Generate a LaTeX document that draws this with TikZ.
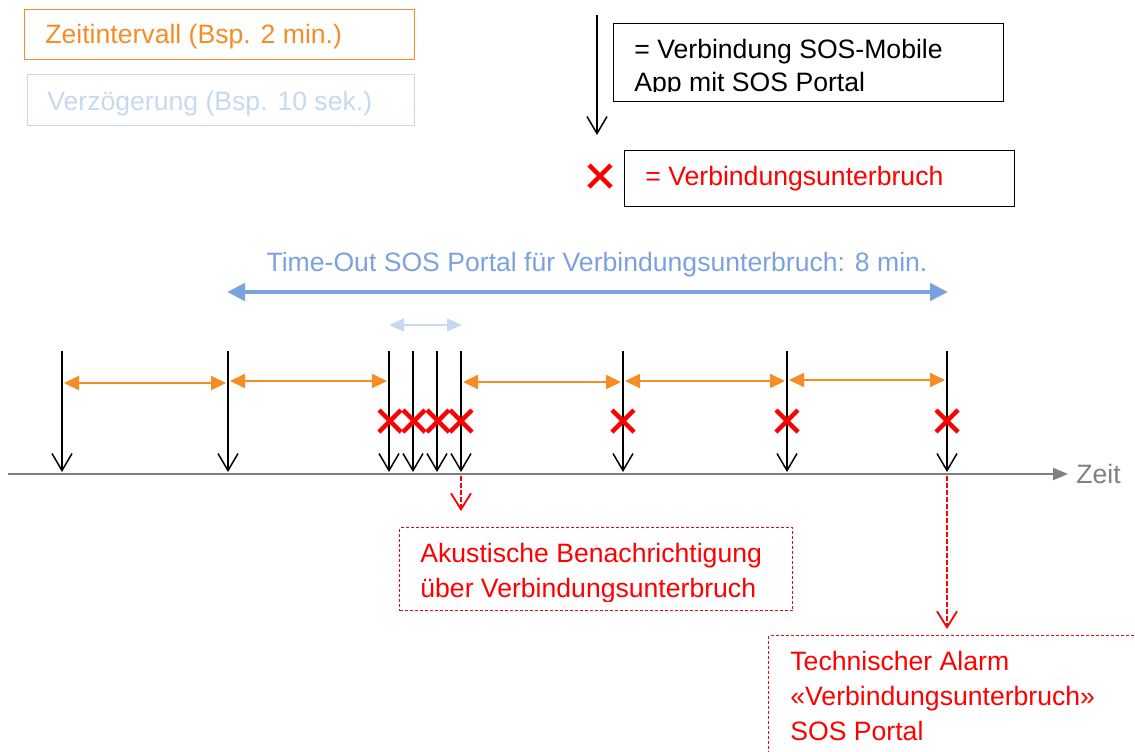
\documentclass[tikz,border=0pt]{standalone}
\usepackage{fontspec}
\setmainfont{Liberation Sans}
\usetikzlibrary{arrows.meta,calc}
\definecolor{orng}{RGB}{247,140,36}
\definecolor{lblue}{RGB}{198,217,241}
\definecolor{mblue}{RGB}{122,162,222}
\definecolor{axgray}{RGB}{128,128,128}
\definecolor{sosred}{RGB}{255,0,0}
\begin{document}
\begin{tikzpicture}[x=0.5pt,y=-0.5pt,
  txt/.style={font=\fontsize{13.3}{17.5}\selectfont, inner sep=0pt, anchor=base west},
  plainbox/.style={draw, line width=0.5pt, inner sep=0pt, anchor=north west},
  redbox/.style={draw=sosred, line width=0.5pt, dash pattern=on 1.5pt off 1pt, inner sep=0pt, anchor=north west},
  conn/.style={draw=black, line width=0.75pt, -{Straight Barb[length=8.5pt,width=10pt]}},
  redconn/.style={draw=sosred, line width=1pt, dash pattern=on 2.5pt off 1pt, -{Straight Barb[length=8pt,width=10pt,line width=0.9pt]}},
  interval/.style={draw=orng, line width=1pt, {Triangle[length=7.5pt,width=7pt]}-{Triangle[length=7.5pt,width=7pt]}},
  delay/.style={draw=lblue, line width=0.75pt, {Triangle[length=7.5pt,width=6.5pt]}-{Triangle[length=7.5pt,width=6.5pt]}},
  timeout/.style={draw=mblue, line width=2.4pt, {Triangle[length=9pt,width=8.5pt]}-{Triangle[length=9pt,width=8.5pt]}},
  axis/.style={draw=axgray, line width=1pt, -{Triangle[length=7.5pt,width=6pt]}},
  cross/.style={draw=sosred, line width=2.2pt}
]
\useasboundingbox (0,0) rectangle (1135,751);
\clip (0,0) rectangle (1135,751);

% ---- legend boxes left
\node[plainbox, draw=orng, minimum width=195pt, minimum height=25pt] (zbox) at (24,9) {};
\node[txt, text=orng] (ztext) at (45,43) {Zeitintervall (Bsp. 2 min.)};
\node[plainbox, draw=lblue, minimum width=193.5pt, minimum height=25.5pt] (vbox) at (27,74) {};
\node[txt, text=lblue] (vtext) at (47,110) {Verzögerung (Bsp. 10 sek.)};

% ---- legend right
\coordinate (lgtop) at (597,15);
\coordinate (lgbot) at (597,135);
\draw[conn] (lgtop) -- (lgbot);
\node[plainbox, minimum width=195pt, minimum height=39pt] (lbox1) at (613,23) {};
\node[txt] (l1a) at (634,58) {= Verbindung SOS-Mobile};
\begin{scope}
  \clip (613,60) rectangle (1003,91);
  \node[txt] (l1b) at (634,91) {App mit SOS Portal};
\end{scope}
\coordinate (lx) at (600,176);
\draw[cross] ($(lx)+(-11,-11)$) -- ($(lx)+(11,11)$);
\draw[cross] ($(lx)+(-11,11)$) -- ($(lx)+(11,-11)$);
\node[plainbox, minimum width=195pt, minimum height=28pt] (lbox2) at (624,150) {};
\node[txt, text=sosred] (l2) at (645,185) {= Verbindungsunterbruch};

% ---- timeout
\node[txt, anchor=base, text=mblue] (totext) at (597,271) {Time-Out SOS Portal für Verbindungsunterbruch: 8 min.};
\coordinate (toA) at (227,292);
\coordinate (toB) at (948,292);
\draw[timeout] (toA) -- (toB);
\coordinate (dlA) at (389,325);
\coordinate (dlB) at (462,325);
\draw[delay] (dlA) -- (dlB);

% ---- axis
\coordinate (ax0) at (8,474);
\coordinate (ax1) at (1068,474);
\draw[axis] (ax0) -- (ax1);
\node[txt, text=axgray] (zeit) at (1076,483) {Zeit};

% ---- connection arrows
\foreach \i/\x in {1/62,2/228,3/389,4/413,5/437,6/461,7/623,8/787,9/947}{
  \coordinate (s\i) at (\x,351);
  \coordinate (e\i) at (\x,472);
  \draw[conn] (s\i) -- (e\i);
}

% ---- intervals
\foreach \a/\b/\y in {64/226/383,230/387/381,463/621/382,625/785/381,789/945/380}{
  \coordinate (ia) at (\a,\y);
  \coordinate (ib) at (\b,\y);
  \draw[interval] (ia) -- (ib);
}

% ---- crosses
\foreach \x in {390,414,438,461,623,787,947}{
  \coordinate (c) at (\x,421);
  \draw[cross] ($(c)+(-11,-11)$) -- ($(c)+(11,11)$);
  \draw[cross] ($(c)+(-11,11)$) -- ($(c)+(11,-11)$);
}

% ---- notification
\coordinate (n1a) at (461,476);
\coordinate (n1b) at (461,511);
\draw[redconn] (n1a) -- (n1b);
\node[redbox, minimum width=196.5pt, minimum height=41.5pt] (nbox1) at (399,527) {};
\node[txt, text=sosred] (n1t1) at (420,562) {Akustische Benachrichtigung};
\begin{scope}
  \clip (399,565) rectangle (792,601);
  \node[txt, text=sosred] (n1t2) at (420,597) {über Verbindungsunterbruch};
\end{scope}

% ---- technical alarm
\coordinate (n2a) at (947,476);
\coordinate (n2b) at (947,629);
\draw[redconn] (n2a) -- (n2b);
\node[redbox, minimum width=200pt, minimum height=70pt] (nbox2) at (768,635) {};
\node[txt, text=sosred] (n2t1) at (790,670) {Technischer Alarm};
\node[txt, text=sosred] (n2t2) at (790,705) {«Verbindungsunterbruch»};
\node[txt, text=sosred] (n2t3) at (790,740) {SOS Portal};
\end{tikzpicture}
\end{document}
